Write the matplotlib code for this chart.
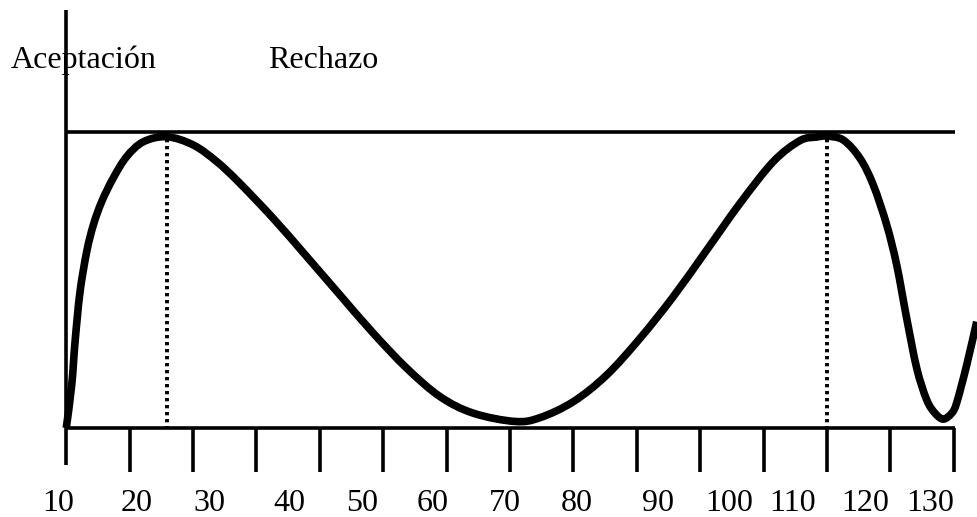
import numpy as np
import matplotlib
matplotlib.use("Agg")
import matplotlib.pyplot as plt
from matplotlib.path import Path
from matplotlib.patches import PathPatch

plt.rcParams['font.family'] = ['Liberation Serif', 'DejaVu Serif']

# curve (x on the label scale, y: 0 = axis, 1 = top line)
curve_x = [10.0, 10.75, 11.21, 11.89, 12.81, 13.72, 14.87, 16.46, 18.30, 20.58,
           23.79, 27.44, 30.65, 33.61, 38.41, 43.0, 47.57, 52.14, 56.72, 61.29,
           65.86, 71.6, 75.01, 79.58, 84.16, 88.73, 93.30, 97.88, 102.45,
           107.02, 110.68, 112.97, 114.35, 116.62, 118.92, 120.74, 122.58, 123.95,
           125.32, 126.70, 128.07, 129.21, 130.35, 131.50, 132.18, 133.56, 134.93]
curve_y = [0.0, 0.145, 0.292, 0.460, 0.596, 0.686, 0.765, 0.845, 0.917, 0.967,
           0.984, 0.956, 0.900, 0.832, 0.708, 0.579, 0.449, 0.320, 0.202, 0.106,
           0.050, 0.022, 0.035, 0.089, 0.179, 0.303, 0.444, 0.601, 0.759,
           0.900, 0.971, 0.983, 0.986, 0.973, 0.911, 0.821, 0.686, 0.551,
           0.371, 0.202, 0.095, 0.050, 0.030, 0.050, 0.085, 0.213, 0.359]

peaks_x = [23.8, 114.4]
labels = [10, 20, 30, 40, 50, 60, 70, 80, 90, 100, 110, 120, 130]
# where each label sits under the axis (the labels are not centred on the ticks)
label_pos = [8.87, 19.71, 29.59, 40.57, 50.58, 60.33, 70.21, 80.09, 91.20,
             100.95, 109.72, 119.60, 128.52]
limit_y = 1.0
axis_start, axis_end = 10.0, 131.9

fig = plt.figure(figsize=(9.77, 5.17), dpi=100)
ax = fig.add_axes([0, 0, 1, 1])
ax.set_xlim(0.91, 134.97)
ax.set_ylim(-0.3007, 1.446)
ax.axis('off')

lw_axis = 2.6

# axes and top limit line
ax.plot([axis_start, axis_start], [1.412, -0.125], color='black', lw=lw_axis, solid_capstyle='butt')
ax.plot([axis_start, axis_end], [0, 0], color='black', lw=lw_axis, solid_capstyle='butt')
ax.plot([axis_start, axis_end], [limit_y, limit_y], color='black', lw=lw_axis, solid_capstyle='butt')

# ticks below the axis
for t in np.linspace(axis_start, 131.8, 15)[1:]:
    ax.plot([t, t], [0, -0.149], color='black', lw=lw_axis, solid_capstyle='butt')

# dotted drops from the peaks
for px in peaks_x:
    ax.plot([px, px], [limit_y, 0], color='black', lw=2.8,
            linestyle=(0, (0.85, 0.95)), dash_capstyle='butt')

# smooth curve through the read points (Catmull-Rom as cubic Bezier segments)
pts = np.column_stack([curve_x, curve_y])
verts = [pts[0]]
codes = [Path.MOVETO]
for i in range(len(pts) - 1):
    p0 = pts[max(i - 1, 0)]
    p1, p2 = pts[i], pts[i + 1]
    p3 = pts[min(i + 2, len(pts) - 1)]
    verts += [p1 + (p2 - p0) / 6, p2 - (p3 - p1) / 6, p2]
    codes += [Path.CURVE4] * 3
ax.add_patch(PathPatch(Path(verts, codes), facecolor='none', edgecolor='black',
                       lw=5.5, joinstyle='round', capstyle='butt'))

for v, x in zip(labels, label_pos):
    ax.text(x, -0.280, str(v), ha='center', va='baseline', fontsize=23)

ax.text(2.42, 1.216, 'Aceptación', ha='left', va='baseline', fontsize=23)
ax.text(37.69, 1.216, 'Rechazo', ha='left', va='baseline', fontsize=23)

fig.savefig('out.png', dpi=100)
